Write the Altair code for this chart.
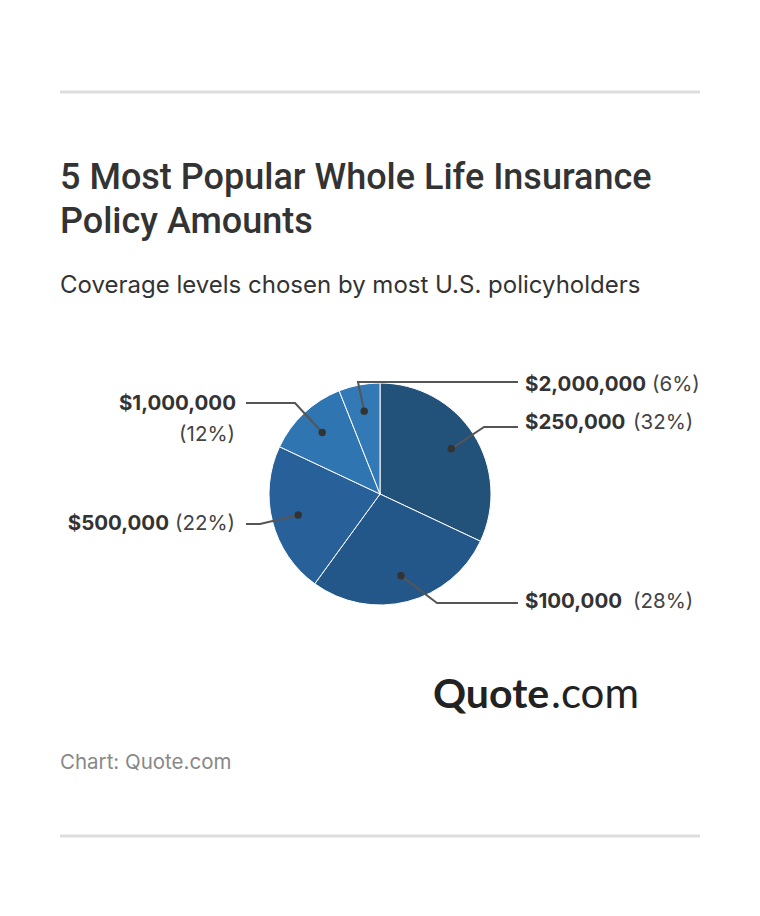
import math
import altair as alt
import pandas as pd

# ---- data ----
categories = ["$250,000", "$100,000", "$500,000", "$1,000,000", "$2,000,000"]
shares = [32, 28, 22, 12, 6]
colors = ["#225179", "#235789", "#28609a", "#2f75b2", "#3379b6"]
pct_labels = ["(32%)", "(28%)", "(22%)", "(12%)", "(6%)"]

# ---- layout (chart pixel coordinates) ----
CX, CY, R = 372, 486, 111
DOT_FRAC = 0.76
label_side = ["right", "right", "left", "left", "right"]
label_line_y = [419, 595, 516, 395, 374]
elbow_x = [476, 429, 252, 287, 350]
line_end_right, line_end_left = 510, 238
label_text_y = [415, 594, 516, 396, 377]
pct_x = [625, 625, 227, 227, 644]
pct_y = [415, 594, 516, 427, 377]
bold_x = [517, 517, 161, 228, 517]

total = sum(shares)
cum = 0
rows, dots, lines, labels = [], [], [], []
for i, (c, v) in enumerate(zip(categories, shares)):
    mid = (cum + v / 2) / total * 2 * math.pi
    cum += v
    rows.append({"cat": c, "value": v, "order": i})
    dx = CX + DOT_FRAC * R * math.sin(mid)
    dy = CY - DOT_FRAC * R * math.cos(mid)
    dots.append({"cat": c, "px": dx, "py": dy})
    end = line_end_right if label_side[i] == "right" else line_end_left
    for k, (px, py) in enumerate([(dx, dy), (elbow_x[i], label_line_y[i]), (end, label_line_y[i])]):
        lines.append({"cat": c, "seq": k, "px": px, "py": py})
    labels.append({
        "cat": c, "pct": pct_labels[i],
        "bx": bold_x[i], "by": label_text_y[i],
        "ppx": pct_x[i], "ppy": pct_y[i],
        "align": "left" if label_side[i] == "right" else "right",
    })

pie_df = pd.DataFrame(rows)
dot_df = pd.DataFrame(dots)
line_df = pd.DataFrame(lines)
lab_df = pd.DataFrame(labels)

FONT = "Inter"
LABEL_SIZE = 20.5

pie = alt.Chart(pie_df).mark_arc(outerRadius=R, stroke="white", strokeWidth=1).encode(
    theta=alt.Theta("value:Q", stack=True),
    order=alt.Order("order:Q"),
    color=alt.Color("cat:N", scale=alt.Scale(domain=categories, range=colors), legend=None),
    x=alt.value(CX),
    y=alt.value(CY),
)

leader = alt.Chart(line_df).mark_line(color="#555555", strokeWidth=2).encode(
    x=alt.X("px:Q", scale=None),
    y=alt.Y("py:Q", scale=None),
    detail="cat:N",
    order="seq:Q",
)

dot = alt.Chart(dot_df).mark_circle(size=55, color="#333333", opacity=1).encode(
    x=alt.X("px:Q", scale=None),
    y=alt.Y("py:Q", scale=None),
)

lab_right = lab_df[lab_df["align"] == "left"]
lab_left = lab_df[lab_df["align"] == "right"]


def bold_text(df, align):
    return alt.Chart(df).mark_text(
        font=FONT, fontSize=LABEL_SIZE, fontWeight="bold", color="#333333", align=align, baseline="middle"
    ).encode(x=alt.X("bx:Q", scale=None), y=alt.Y("by:Q", scale=None), text="cat:N")


def pct_text(df, align):
    return alt.Chart(df).mark_text(
        font=FONT, fontSize=LABEL_SIZE, color="#444444", align=align, baseline="middle"
    ).encode(x=alt.X("ppx:Q", scale=None), y=alt.Y("ppy:Q", scale=None), text="pct:N")


base = alt.Chart(pd.DataFrame({"a": [0]}))


def txt(s, x, y, size, weight="normal", color="#333333", font=FONT):
    return base.mark_text(
        text=s, font=font, fontSize=size, fontWeight=weight, color=color,
        align="left", baseline="alphabetic",
    ).encode(x=alt.value(x), y=alt.value(y))


def hrule(y):
    return base.mark_rule(color="#dddddd", strokeWidth=3).encode(
        x=alt.value(52), x2=alt.value(692), y=alt.value(y)
    )


title1 = txt("5 Most Popular Whole Life Insurance", 52, 181, 36, weight=500, font="Roboto")
title2 = txt("Policy Amounts", 52, 225, 36, weight=500, font="Roboto")
subtitle = txt("Coverage levels chosen by most U.S. policyholders", 52, 285, 24)
source = txt("Chart: Quote.com", 52, 761, 20.5, color="#888888")
logo1 = txt("Quote", 425, 700, 41, weight="bold", color="#222222", font="Lato")
logo2 = txt(".com", 543, 700, 42, weight="normal", color="#222222", font="Lato")

chart = alt.layer(
    hrule(84), hrule(828),
    title1, title2, subtitle,
    pie, leader, dot,
    bold_text(lab_right, "left"), pct_text(lab_right, "left"),
    bold_text(lab_left, "right"), pct_text(lab_left, "right"),
    logo1, logo2, source,
).properties(
    width=744, height=880,
    autosize=alt.AutoSizeParams(type="none"),
    padding=0,
).configure_view(stroke=None)

chart.save("out.html", embed_options={"renderer": "svg", "actions": False})
